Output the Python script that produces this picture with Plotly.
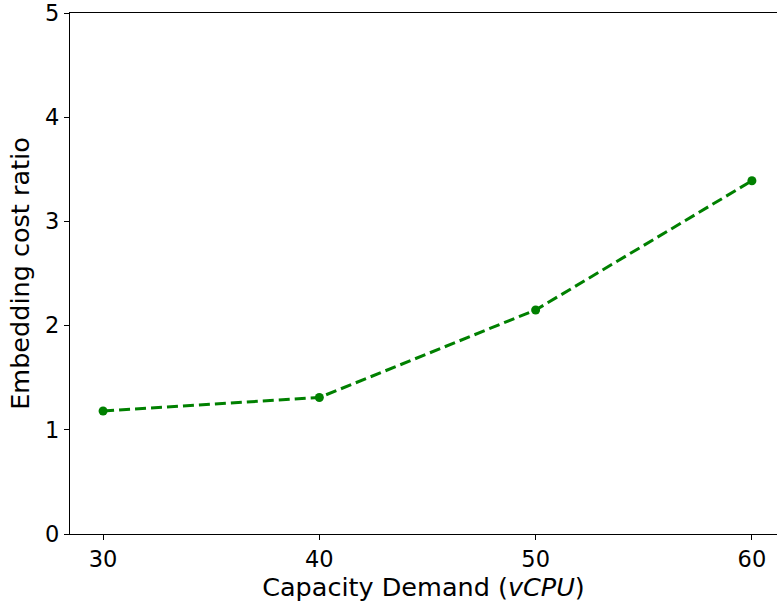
import plotly.graph_objects as go

capacity = [30, 40, 50, 60]
cost_ratio = [1.18, 1.31, 2.15, 3.39]
x_ticks = [30, 40, 50, 60]
y_ticks = [0, 1, 2, 3, 4, 5]

fig = go.Figure()
fig.add_trace(go.Scatter(
    x=capacity, y=cost_ratio, mode="lines+markers",
    line=dict(color="#008000", width=3, dash="11px,5px"),
    marker=dict(color="#008000", size=9),
    showlegend=False,
))

font_family = "DejaVu Sans"
fig.update_layout(
    width=777, height=605,
    margin=dict(l=70, r=0, t=11, b=71),
    paper_bgcolor="white", plot_bgcolor="white",
    font=dict(family=font_family, color="black", size=22),
    xaxis=dict(
        range=[28.47, 61.16], tickvals=x_ticks,
        ticks="outside", ticklen=5, tickwidth=1, tickcolor="black",
        showline=True, linecolor="black", linewidth=1.2, mirror=True,
        showgrid=False, zeroline=False, ticklabeloverflow="allow",
        tickfont=dict(size=22.5),
        title=dict(text="Capacity Demand (<i>vCPU</i>)", font=dict(size=25.5), standoff=3),
    ),
    yaxis=dict(
        range=[0, 5], tickvals=y_ticks,
        ticks="outside", ticklen=5, tickwidth=1, tickcolor="black",
        showline=True, linecolor="black", linewidth=1.2, mirror=False,
        showgrid=False, zeroline=False, ticklabeloverflow="allow",
        tickfont=dict(size=22.5),
        title=dict(text="Embedding cost ratio", font=dict(size=25.5), standoff=8),
    ),
)

fig.write_html("out.html")
